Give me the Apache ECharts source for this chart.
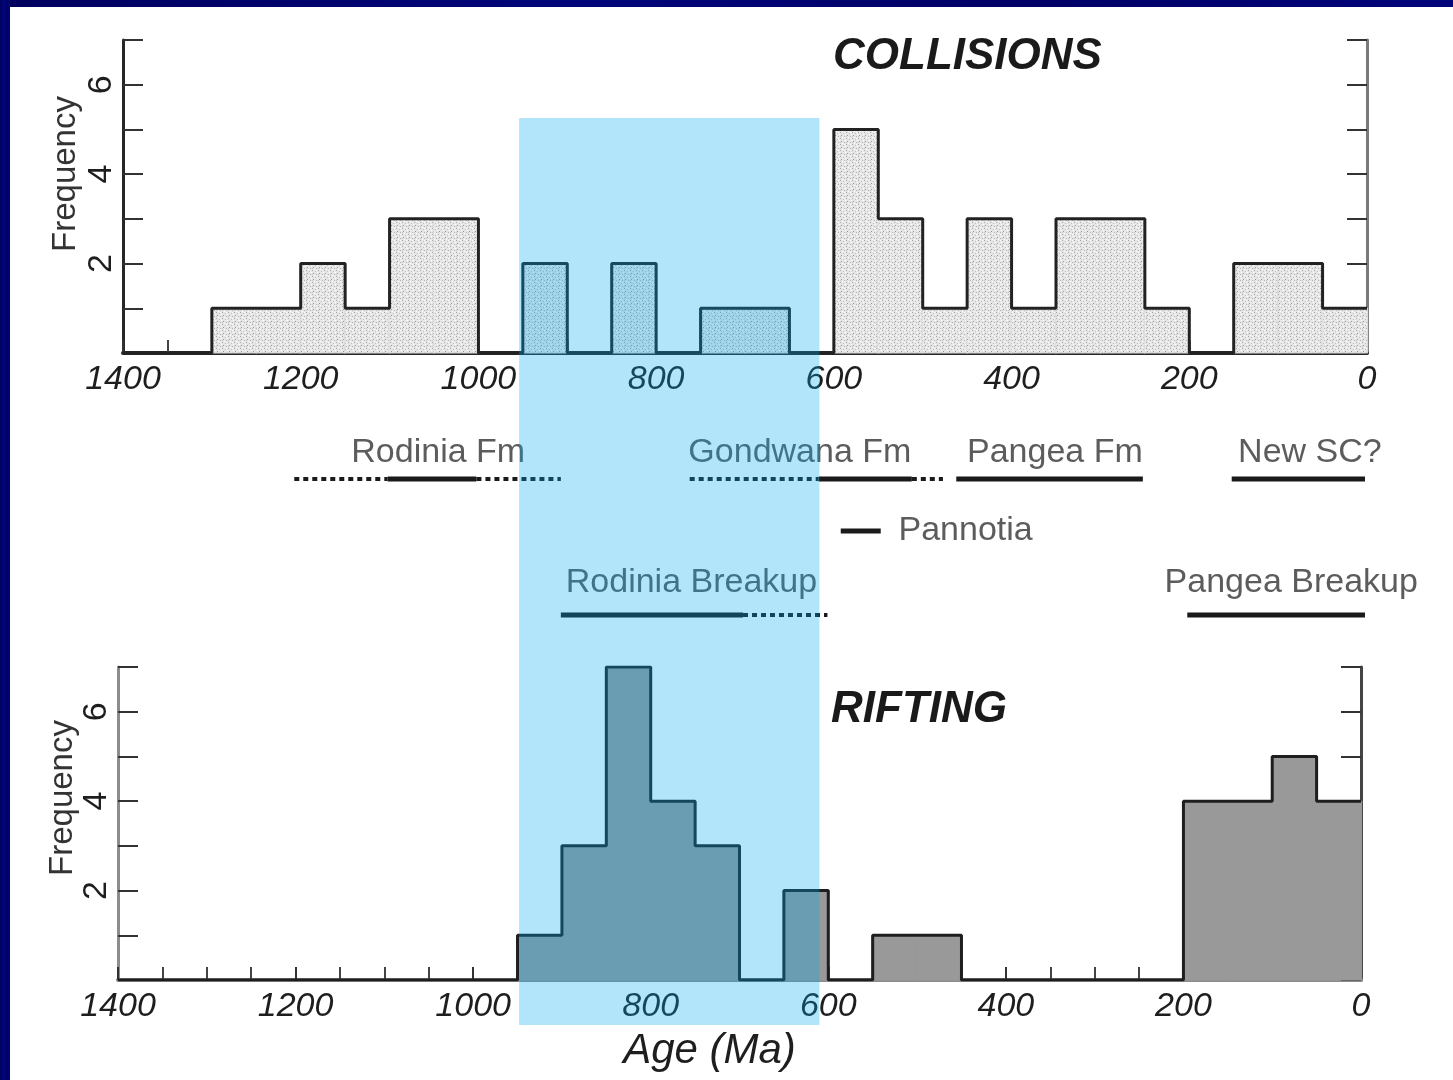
<!DOCTYPE html>
<html>
<head>
<meta charset="utf-8">
<script src="https://cdn.jsdelivr.net/npm/echarts@6/dist/echarts.min.js"></script>
<style>
  html, body { margin: 0; padding: 0; background: #fff; }
  #chart { position: absolute; left: 0; top: 0; width: 1453px; height: 1080px; }
  .navy { position: absolute; background: linear-gradient(90deg, #00005e, #00067a 40%, #000066 70%, #00047a); z-index: 5; }
</style>
</head>
<body>
<div id="chart"></div>
<div class="navy" style="left:0;top:0;width:1453px;height:7px;"></div>
<div class="navy" style="left:0;top:0;width:10px;height:1080px;"></div>
<script>
// ---------- data ----------
// 50 Ma bins, start age (older edge) of each bin
const binStartsMa = [1400,1350,1300,1250,1200,1150,1100,1050,1000,950,900,850,800,750,
                     700,650,600,550,500,450,400,350,300,250,200,150,100,50];
const binWidthMa = 50;
const collisionCounts = [0,0,1,1,2,1,3,3,0,2,0,2,0,1,1,0,5,3,1,3,1,3,3,1,0,2,2,1];
const riftingCounts   = [0,0,0,0,0,0,0,0,0,1,3,7,4,3,0,2,0,1,1,0,0,0,0,0,4,4,5,4];
const yTickLabels = [2,4,6];
const highlightBandMa = [952, 614];

// supercontinent assembly / breakup bars (Ma)
const fmSolidMa       = [[1100,1000],[615,510],[460,250],[150,0]];
const fmDottedMa      = [[1205,1100],[1000,905],[760,615],[510,475]];
const pannotiaMa      = [[590,545]];
const breakupSolidMa  = [[905,700],[200,0]];
const breakupDottedMa = [[700,605]];
const fmLabels        = ['Rodinia Fm','Gondwana Fm','Pangea Fm','New SC?'];
const fmLabelMa       = [1043,636,349,62];
const breakupLabels   = ['Rodinia Breakup','Pangea Breakup'];
const breakupLabelMa  = [758,83];
const pannotiaLabel   = 'Pannotia';
const pannotiaLabelMa = 525;

// annotation row levels (mid panel units)
const ROW = { fmText: 5.3, fmLine: 7.9, pannotia: 13.1, brText: 18.3, brLine: 21.5 };

// ---------- styles ----------
const FONT = "'Liberation Sans', Arial, Helvetica, sans-serif";
function stipple() {
  const c = document.createElement('canvas');
  c.width = 6; c.height = 6;
  const g = c.getContext('2d');
  g.fillStyle = '#e6e6e6'; g.fillRect(0,0,6,6);
  const dots = [[0,0,'#a8a8a8'],[3,1,'#c0c0c0'],[1,3,'#9c9c9c'],[4,4,'#b8b8b8'],[5,2,'#ffffff'],[2,5,'#ffffff'],[0,4,'#c8c8c8'],[4,0,'#ffffff']];
  dots.forEach(d => { g.fillStyle = d[2]; g.fillRect(d[0], d[1], 1, 1); });
  return { image: c, repeat: 'repeat' };
}
const stipplePattern = stipple();

function binData(counts) {
  return binStartsMa.map((s, i) => [s, s - binWidthMa, counts[i]]);
}
function outlineData(counts) {
  const d = binStartsMa.map((s, i) => [s, counts[i]]);
  d.push([binStartsMa[binStartsMa.length - 1] - binWidthMa, counts[counts.length - 1]]);
  return d;
}
function histFill(gridIdx, counts, fill, seam) {
  return {
    type: 'custom', xAxisIndex: gridIdx, yAxisIndex: gridIdx * 2, z: 2,
    data: binData(counts).filter(d => d[2] > 0),
    renderItem: function (params, api) {
      const a = api.coord([api.value(0), api.value(2)]);
      const b = api.coord([api.value(1), 0]);
      return { type: 'rect',
        shape: { x: Math.min(a[0], b[0]) - 0.6, y: a[1], width: Math.abs(b[0] - a[0]) + 1.2, height: b[1] - a[1] },
        style: { fill: fill, stroke: seam, lineWidth: 1 } };
    }
  };
}
function histOutline(gridIdx, counts, color) {
  return {
    type: 'line', xAxisIndex: gridIdx, yAxisIndex: gridIdx * 2, z: 3,
    step: 'end', symbol: 'none', data: outlineData(counts),
    lineStyle: { color: color, width: 3 }
  };
}

function xAxisFor(gridIdx, lineColor, showLabels) {
  return {
    type: 'value', gridIndex: gridIdx, min: 0, max: 1400, interval: 200, inverse: true,
    axisLine: { show: true, onZero: false, lineStyle: { color: lineColor, width: 4 } },
    axisTick: { show: true, inside: true, length: 13, lineStyle: { color: '#333', width: 2 } },
    minorTick: { show: true, splitNumber: 4, length: 13, lineStyle: { color: '#444', width: 2 } },
    splitLine: { show: false },
    axisLabel: { show: showLabels, fontFamily: FONT, fontStyle: 'italic', fontSize: 34, color: '#1e1e1e', margin: 10,
                 formatter: v => String(v) }
  };
}
function yAxisFor(gridIdx, position, lineColor) {
  return {
    type: 'value', gridIndex: gridIdx, min: 0, max: 7, interval: 1, position: position,
    axisLine: { show: true, onZero: false, lineStyle: { color: lineColor, width: 3 } },
    axisTick: { show: true, inside: true, length: 20, lineStyle: { color: '#333', width: 2 } },
    splitLine: { show: false },
    axisLabel: {
      show: position === 'left', rotate: 90, fontFamily: FONT, fontSize: 34, color: '#1e1e1e', margin: 4,
      formatter: v => (yTickLabels.indexOf(v) >= 0 ? String(v) : '')
    }
  };
}

function segSeries(segs, row, dotted, width) {
  return segs.map(s => ({
    type: 'line', xAxisIndex: 2, yAxisIndex: 4, z: 4, symbol: 'none', silent: true,
    data: [[s[0], row], [s[1], row]],
    lineStyle: { color: '#1a1a1a', width: width, type: dotted ? [5, 4] : 'solid', cap: 'butt' }
  }));
}
function labelSeries(names, ages, row, align) {
  return {
    type: 'scatter', xAxisIndex: 2, yAxisIndex: 4, z: 4, symbolSize: 0, silent: true,
    data: names.map((n, i) => ({ name: n, value: [ages[i], row] })),
    label: { show: true, position: 'inside', align: align, formatter: p => p.name,
             fontFamily: FONT, fontSize: 34, color: '#333333' }
  };
}

const option = {
  backgroundColor: '#ffffff',
  animation: false,
  grid: [
    { left: 123, right: 86, top: 40, height: 313 },   // collisions
    { left: 118, right: 92, top: 667, height: 313 },  // rifting
    { left: 121, right: 88, top: 400, height: 240 },  // annotations
    { left: 121, right: 88, top: 118, height: 907 }   // highlight band
  ],
  xAxis: [
    xAxisFor(0, '#262626', true),
    Object.assign(xAxisFor(1, '#8c8c8c', true), { name: 'Age (Ma)', nameLocation: 'middle', nameGap: 50,
      nameTextStyle: { fontFamily: FONT, fontStyle: 'italic', fontSize: 42, color: '#1e1e1e', padding: [0, 60, 0, 0] } }),
    { type: 'value', gridIndex: 2, min: 0, max: 1400, inverse: true, show: false },
    { type: 'value', gridIndex: 3, min: 0, max: 1400, inverse: true, show: false }
  ],
  yAxis: [
    yAxisFor(0, 'left', '#262626'),
    yAxisFor(0, 'right', '#7a7a7a'),
    yAxisFor(1, 'left', '#8c8c8c'),
    yAxisFor(1, 'right', '#444444'),
    { type: 'value', gridIndex: 2, min: 0, max: 24, inverse: true, show: false },
    { type: 'value', gridIndex: 3, min: 0, max: 1, show: false }
  ],
  graphic: [
    { type: 'text', left: 833, top: 35, z: 10,
      style: { text: 'COLLISIONS', font: "italic bold 44px " + FONT, fill: '#1a1a1a' } },
    { type: 'text', left: 831, top: 688, z: 10,
      style: { text: 'RIFTING', font: "italic bold 44px " + FONT, fill: '#1a1a1a' } },
    { type: 'text', x: 66, y: 174, rotation: Math.PI / 2, z: 10,
      style: { text: 'Frequency', font: "33px " + FONT, fill: '#333', align: 'center', verticalAlign: 'middle' } },
    { type: 'text', x: 63, y: 798, rotation: Math.PI / 2, z: 10,
      style: { text: 'Frequency', font: "33px " + FONT, fill: '#333', align: 'center', verticalAlign: 'middle' } }
  ],
  series: [
    histFill(0, collisionCounts, stipplePattern, '#dcdcdc'),
    histOutline(0, collisionCounts, '#222'),
    histFill(1, riftingCounts, '#999999', '#999999'),
    histOutline(1, riftingCounts, '#1e1e1e'),
    ...segSeries(fmSolidMa, ROW.fmLine, false, 5),
    ...segSeries(fmDottedMa, ROW.fmLine, true, 4),
    ...segSeries(pannotiaMa, ROW.pannotia, false, 5),
    ...segSeries(breakupSolidMa, ROW.brLine, false, 5),
    ...segSeries(breakupDottedMa, ROW.brLine, true, 4),
    labelSeries(fmLabels, fmLabelMa, ROW.fmText, 'center'),
    labelSeries(breakupLabels, breakupLabelMa, ROW.brText, 'center'),
    labelSeries([pannotiaLabel], [pannotiaLabelMa], ROW.pannotia, 'left'),
    {
      type: 'line', xAxisIndex: 3, yAxisIndex: 5, z: 50, data: [], silent: true,
      markArea: { silent: true, z: 50,
        itemStyle: { color: 'rgba(0,170,240,0.3)' },
        data: [[{ xAxis: highlightBandMa[0] }, { xAxis: highlightBandMa[1] }]] }
    }
  ]
};
const chart = echarts.init(document.getElementById('chart'), null, { renderer: 'canvas' });
chart.setOption(option);
</script>
</body>
</html>
